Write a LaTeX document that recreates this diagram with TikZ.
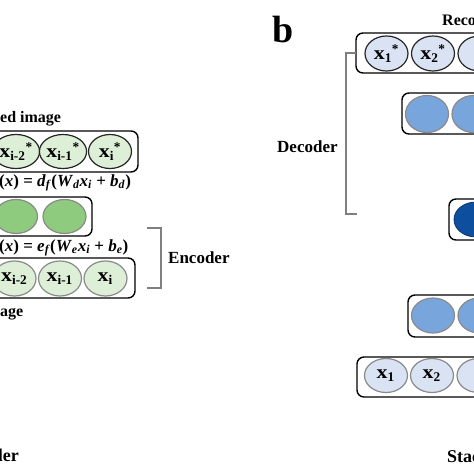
\documentclass[tikz,border=0pt]{standalone}
\usepackage{fontspec}
\setmainfont{Liberation Serif}
\usetikzlibrary{shapes.geometric}
\definecolor{lgreen}{HTML}{DDEFD7}
\definecolor{mgreen}{HTML}{8FCB7E}
\definecolor{lblue}{HTML}{DAE3F3}
\definecolor{mblue}{HTML}{79A5DD}
\definecolor{dblue}{HTML}{0D4E9E}
\definecolor{edgegray}{HTML}{8A8A8A}
\definecolor{brgray}{HTML}{7F7F7F}
\newcommand\xlab[2]{{\bfseries\scalebox{1.15}[1]{x}\textsubscript{#1}\textsuperscript{#2}}}
\begin{document}
\begin{tikzpicture}[x=1pt,y=-1pt,
  rowbox/.style={draw=black, line width=1.4pt, rounded corners=7pt},
  cell/.style={ellipse, minimum width=43pt, minimum height=34pt, inner sep=0pt, font=\fontsize{19}{19}\selectfont},
  cellA/.style={cell, fill=lgreen, draw=black!85, line width=1.2pt},
  cellB/.style={cell, fill=mgreen, draw=edgegray, line width=1.2pt},
  cellC/.style={cell, fill=lgreen, draw=edgegray, line width=1.2pt},
  cellD/.style={cell, fill=lblue, draw=black!85, line width=1.2pt},
  cellE/.style={cell, fill=mblue, draw=edgegray, line width=1.2pt},
  cellF/.style={cell, fill=dblue, draw=dblue!70!black, line width=0.8pt},
  cellG/.style={cell, fill=lblue, draw=edgegray, line width=1.2pt},
  bracket/.style={draw=brgray, line width=1.3pt},
  lab/.style={inner sep=0pt, font=\bfseries\fontsize{17}{17}\selectfont},
  eqn/.style={inner sep=0pt, font=\bfseries\fontsize{17}{17}\selectfont}]
\clip (0,0) rectangle (474,474);
\fill[white] (0,0) rectangle (474,474);
% ---------- left panel ----------
\node[lab, anchor=base west, font=\bfseries\fontsize{16}{16}\selectfont] (recimg) at (0,122) {ed image};
\draw[rowbox] (-30,131) rectangle (138,172);
\node[cellA] (a1) at (16,151.5) {\xlab{i-2}{*}};
\node[cellA] (a2) at (63,151.5) {\xlab{i-1}{*}};
\node[cellA] (a3) at (110,151.5) {\xlab{i}{*}};
\node[eqn, anchor=base west] (eqd) at (-1,186) {(\textit{x}) = \textit{d}\textsubscript{\textit{f}}(\textit{W}\textsubscript{\textit{d}}\textit{x}\textsubscript{\textit{i}} + \textit{b}\textsubscript{\textit{d}})};
\draw[rowbox] (-30,197) rectangle (92,236);
\node[cellB] (b1) at (16,216.5) {};
\node[cellB] (b2) at (64.5,216.5) {};
\node[eqn, anchor=base west] (eqe) at (-1,251) {(\textit{x}) = \textit{e}\textsubscript{\textit{f}}(\textit{W}\textsubscript{\textit{e}}\textit{x}\textsubscript{\textit{i}} + \textit{b}\textsubscript{\textit{e}})};
\draw[rowbox] (-30,258) rectangle (135,298);
\node[cellC, minimum height=35pt] (c1) at (14.5,278.5) {\xlab{i-2}{}};
\node[cellC, minimum height=35pt] (c2) at (60,278.5) {\xlab{i-1}{}};
\node[cellC, minimum height=35pt] (c3) at (105.5,278.5) {\xlab{i}{}};
\node[lab, anchor=base west, font=\bfseries\fontsize{16}{16}\selectfont] (inimg) at (0,316) {age};
\coordinate (e1) at (147,228);
\coordinate (e2) at (161,228);
\coordinate (e3) at (161,288);
\coordinate (e4) at (147,288);
\draw[bracket] (e1) -- (e2) -- (e3) -- (e4);
\node[lab, anchor=base west] (enc) at (168,263) {Encoder};
\node[lab, anchor=base east, font=\bfseries\fontsize{18}{18}\selectfont] (aetitle) at (19,461) {der};
% ---------- right panel ----------
\node[lab, anchor=base west, font=\bfseries\fontsize{38}{38}\selectfont] (bl) at (272,42) {b};
\node[lab, anchor=base west, font=\bfseries\fontsize{16}{16}\selectfont] (reco) at (442,25) {Reco};
\draw[rowbox] (356,33) rectangle (530,73);
\node[cellD, minimum height=35pt] (d1) at (386.5,53.5) {\xlab{1}{*}};
\node[cellD, minimum height=35pt] (d2) at (433,53.5) {\xlab{2}{*}};
\node[cellD, minimum height=35pt] (d3) at (479.5,53.5) {};
\coordinate (f1) at (356,53);
\coordinate (f2) at (346,53);
\coordinate (f3) at (346,214);
\coordinate (f4) at (357,214);
\draw[bracket] (f1) -- (f2) -- (f3) -- (f4);
\node[lab, anchor=base west] (dec) at (277,152) {Decoder};
\draw[rowbox] (402,93) rectangle (530,134);
\node[cellE, minimum height=37pt] (g1) at (427,114) {};
\node[cellE, minimum height=37pt] (g2) at (473.5,114) {};
\draw[rowbox] (449,199) rectangle (530,240);
\node[cellF, minimum width=44pt, minimum height=35pt] (h1) at (476,219.5) {};
\draw[rowbox] (408,295) rectangle (530,337);
\node[cellE, minimum height=35pt] (k1) at (433,315.5) {};
\node[cellE, minimum height=35pt] (k2) at (479.5,315.5) {};
\draw[rowbox] (357,357) rectangle (530,397);
\node[cellG] (m1) at (386,375.5) {\xlab{1}{}};
\node[cellG] (m2) at (432,375.5) {\xlab{2}{}};
\node[cellG] (m3) at (478.5,375.5) {};
\node[lab, anchor=base west, font=\bfseries\fontsize{18}{18}\selectfont] (stac) at (447,462) {Stac};
\end{tikzpicture}
\end{document}
